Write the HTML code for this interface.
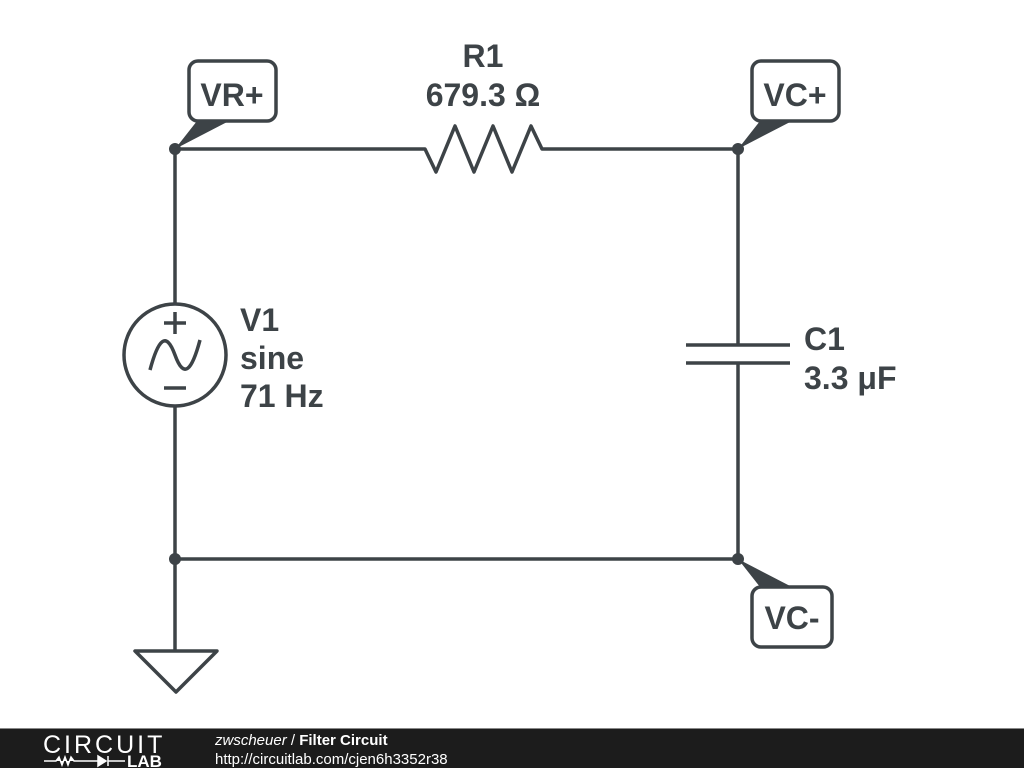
<!DOCTYPE html>
<html><head><meta charset="utf-8"><style>
html,body{margin:0;padding:0;background:#fff;width:1024px;height:768px;overflow:hidden}
svg{display:block}
text{font-family:"Liberation Sans",sans-serif}
</style></head><body>
<svg width="1024" height="768" viewBox="0 0 1024 768">
<g stroke="#3d4347" stroke-width="3.5" fill="none" stroke-linejoin="round">
<polyline points="175,149 425,149 436,172 455,126 474,172 493,126 512,172 531,126 542,149 738,149 738,345"/>
<line x1="686" y1="345" x2="790" y2="345"/>
<line x1="686" y1="363" x2="790" y2="363"/>
<polyline points="738,363 738,559 175,559"/>
<line x1="175" y1="149" x2="175" y2="304"/>
<line x1="175" y1="406" x2="175" y2="651"/>
<circle cx="175" cy="355" r="51"/>
<polygon points="135,651 217,651 176,692"/>
<line x1="164" y1="323" x2="186" y2="323"/><line x1="175" y1="312" x2="175" y2="334"/>
<line x1="164" y1="388" x2="186" y2="388"/>
<path d="M150,370 C158,340 166,330 175,355 C184,380 192,370 200,340"/>
<rect x="189" y="61" width="87" height="60" rx="9"/>
<rect x="752" y="61" width="87" height="60" rx="9"/>
<rect x="752" y="587" width="80" height="60" rx="9"/>
</g>
<g fill="#3d4347">
<circle cx="175" cy="149" r="6"/><circle cx="738" cy="149" r="6"/>
<circle cx="175" cy="559" r="6"/><circle cx="738" cy="559" r="6"/>
<polygon points="175,149 197,121 229,121"/>
<polygon points="738,149 760,121 792,121"/>
<polygon points="738,559 760,587 792,587"/>
</g>
<g fill="#3d4347" font-weight="bold" font-size="32">
<text x="232" y="106" text-anchor="middle">VR+</text>
<text x="795" y="106" text-anchor="middle">VC+</text>
<text x="792" y="629" text-anchor="middle">VC-</text>
<text x="483" y="67" text-anchor="middle">R1</text>
<text x="483" y="106" text-anchor="middle">679.3 Ω</text>
<text x="240" y="331">V1</text>
<text x="240" y="369">sine</text>
<text x="240" y="407">71 Hz</text>
<text x="804" y="350">C1</text>
<text x="804" y="389">3.3 μF</text>
</g>
<rect x="0" y="729" width="1024" height="39" fill="#1c1c1c"/>
<rect x="0" y="728" width="1024" height="1" fill="#888"/>
<text x="43" y="753" font-size="25" fill="#fff" style="letter-spacing:3px">CIRCUIT</text>
<path d="M44,761 H56 l3,-4 3,8 3,-8 3,8 3,-8 3,4 H98 M98,756 v10 l8,-5 z M108,756 v10 M108,761 H125" stroke="#fff" stroke-width="1.5" fill="#fff"/>
<text x="127" y="767" font-size="17" font-weight="bold" fill="#fff">LAB</text>
<text x="215" y="745" font-size="15" fill="#fff" font-family="DejaVu Sans"><tspan font-style="italic">zwscheuer</tspan> / <tspan font-weight="bold">Filter Circuit</tspan></text>
<text x="215" y="764" font-size="15" fill="#fff" font-family="DejaVu Sans">http://circuitlab.com/cjen6h3352r38</text>
</svg>
</body></html>
